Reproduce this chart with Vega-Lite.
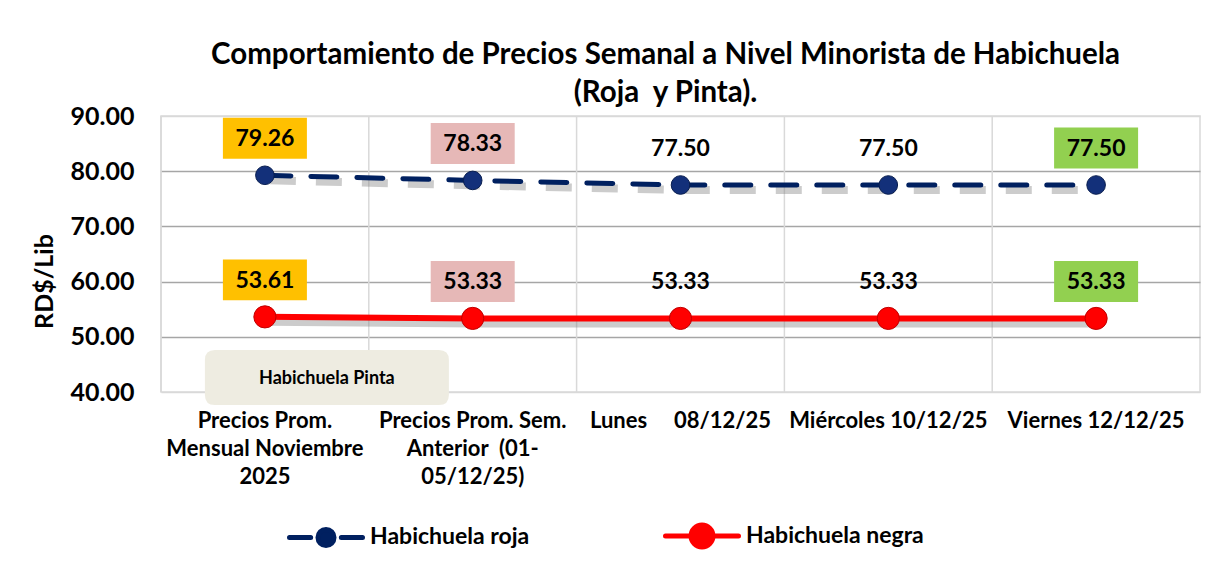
{
  "$schema": "https://vega.github.io/schema/vega-lite/v6.json",
  "width": 1039,
  "height": 276,
  "autosize": {"type": "none"},
  "padding": {"left": 161, "top": 116, "right": 19, "bottom": 170},
  "background": "white",
  "config": {"font": "Lato", "view": {"stroke": "#d9d9d9", "strokeWidth": 1.5}},
  "title": {
    "text": ["Comportamiento de Precios Semanal a Nivel Minorista de Habichuela", "(Roja\u00a0 y Pinta)."],
    "fontSize": 29.5, "fontWeight": "bold", "font": "Lato", "color": "#000000",
    "anchor": "middle", "frame": "group", "offset": -4, "lineHeight": 38, "dx": -15
  },
  "datasets": {
    "precios": [
      {"cat": "Precios Prom.|Mensual Noviembre|2025", "serie": "Habichuela roja", "value": 79.26},
      {"cat": "Precios Prom. Sem.|Anterior\u00a0 (01-|05/12/25)", "serie": "Habichuela roja", "value": 78.33},
      {"cat": "Lunes\u00a0\u00a0\u00a0\u00a0 08/12/25", "serie": "Habichuela roja", "value": 77.50},
      {"cat": "Miércoles 10/12/25", "serie": "Habichuela roja", "value": 77.50},
      {"cat": "Viernes 12/12/25", "serie": "Habichuela roja", "value": 77.50},
      {"cat": "Precios Prom.|Mensual Noviembre|2025", "serie": "Habichuela negra", "value": 53.61},
      {"cat": "Precios Prom. Sem.|Anterior\u00a0 (01-|05/12/25)", "serie": "Habichuela negra", "value": 53.33},
      {"cat": "Lunes\u00a0\u00a0\u00a0\u00a0 08/12/25", "serie": "Habichuela negra", "value": 53.33},
      {"cat": "Miércoles 10/12/25", "serie": "Habichuela negra", "value": 53.33},
      {"cat": "Viernes 12/12/25", "serie": "Habichuela negra", "value": 53.33}
    ],
    "nota": [
      {"cat": "Precios Prom.|Mensual Noviembre|2025", "nota": "Habichuela Pinta", "value": 42.63}
    ]
  },
  "data": {"name": "precios"},
  "encoding": {
    "x": {
      "field": "cat", "type": "nominal", "sort": null, "title": null,
      "scale": {"type": "band", "paddingInner": 0, "paddingOuter": 0},
      "axis": {
        "labelExpr": "split(datum.label, '|')",
        "labelAngle": 0, "labelFontSize": 22, "labelFontWeight": "bold", "labelColor": "#000000",
        "labelLineHeight": 28, "labelPadding": 18, "labelBaseline": "top", "labelLimit": 300,
        "ticks": false, "domain": false, "grid": false
      }
    }
  },
  "layer": [
    {
      "transform": [{"filter": "datum.serie == 'Habichuela roja'"}],
      "mark": {"type": "rule", "color": "#d9d9d9", "strokeWidth": 1.5},
      "encoding": {"x": {"field": "cat", "type": "nominal", "sort": null, "bandPosition": 0}}
    },
    {
      "transform": [{"filter": "datum.serie == 'Habichuela roja'"}],
      "mark": {"type": "line", "color": "#7f7f7f", "opacity": 0.4, "strokeWidth": 8, "strokeDash": [26, 20], "xOffset": 5, "yOffset": 5},
      "encoding": {
        "y": {
          "field": "value", "type": "quantitative",
          "scale": {"domain": [40, 90], "nice": false, "zero": false},
          "axis": {
            "values": [40, 50, 60, 70, 80, 90], "format": ".2f",
            "grid": true,
            "gridColor": {"condition": {"test": "datum.value == 40 || datum.value == 90", "value": "#d9d9d9"}, "value": "#a6a6a6"},
            "gridWidth": 1.5, "domain": false, "ticks": false,
            "labelFontSize": 25, "labelFontWeight": "bold", "labelColor": "#000000", "labelPadding": 27,
            "title": "RD$/Lib", "titleFontSize": 25, "titleFontWeight": "bold", "titleColor": "#000000",
            "titleAngle": -90, "titleAlign": "center", "titleBaseline": "middle", "titleX": -117, "titleY": 165
          }
        }
      }
    },
    {
      "transform": [{"filter": "datum.serie == 'Habichuela negra'"}],
      "mark": {"type": "line", "color": "#7f7f7f", "opacity": 0.4, "strokeWidth": 8, "xOffset": 3, "yOffset": 5},
      "encoding": {"y": {"field": "value", "type": "quantitative"}}
    },
    {
      "transform": [{"filter": "datum.serie == 'Habichuela roja'"}],
      "mark": {"type": "line", "strokeWidth": 5, "strokeDash": [26, 20], "strokeCap": "round"},
      "encoding": {
        "y": {"field": "value", "type": "quantitative"},
        "color": {
          "field": "serie", "type": "nominal",
          "scale": {"domain": ["Habichuela roja", "Habichuela negra"], "range": ["#002060", "#FF0000"]},
          "legend": {
            "orient": "none", "legendX": 126, "legendY": 381, "direction": "horizontal", "title": null,
            "padding": 0, "symbolSize": 5329, "labelFontSize": 23, "labelFontWeight": "bold", "labelColor": "#000000",
            "labelOffset": 5, "columnPadding": 125, "labelLimit": 400,
            "encode": {
              "symbols": {
                "update": {
                  "shape": {"signal": "datum.value == 'Habichuela roja' ? 'M-1,0H-0.42M0.42,0H1M-0.22,0A0.22,0.22 0 1,1 0.22,0A0.22,0.22 0 1,1 -0.22,0Z' : 'M-1,0H1M-0.3,0A0.3,0.3 0 1,1 0.3,0A0.3,0.3 0 1,1 -0.3,0Z'"},
                  "fill": {"scale": "color", "field": "value"},
                  "stroke": {"scale": "color", "field": "value"},
                  "strokeWidth": {"value": 5},
                  "strokeCap": {"value": "round"},
                  "strokeDash": {"value": []},
                  "opacity": {"value": 1}
                }
              }
            }
          }
        }
      }
    },
    {
      "transform": [{"filter": "datum.serie == 'Habichuela negra'"}],
      "mark": {"type": "line", "strokeWidth": 6},
      "encoding": {
        "y": {"field": "value", "type": "quantitative"},
        "color": {"field": "serie", "type": "nominal"}
      }
    },
    {
      "transform": [{"filter": "datum.serie == 'Habichuela roja'"}],
      "mark": {"type": "point", "filled": true, "size": 346, "fill": "#13307a", "stroke": "#0a1f50", "strokeWidth": 1, "opacity": 1},
      "encoding": {"y": {"field": "value", "type": "quantitative"}}
    },
    {
      "transform": [{"filter": "datum.serie == 'Habichuela negra'"}],
      "mark": {"type": "point", "filled": true, "size": 491, "fill": "#FF0000", "stroke": "#C00000", "strokeWidth": 1, "opacity": 1},
      "encoding": {"y": {"field": "value", "type": "quantitative"}}
    },
    {
      "transform": [{"filter": "indexof(datum.cat, 'Lunes') < 0 && indexof(datum.cat, 'Miércoles') < 0"}],
      "mark": {"type": "point", "shape": "M-1,-0.488H1V0.488H-1Z", "size": 7056, "filled": true, "strokeWidth": 0, "opacity": 1, "yOffset": -37},
      "encoding": {
        "y": {"field": "value", "type": "quantitative"},
        "fill": {
          "field": "cat", "type": "nominal", "legend": null,
          "scale": {
            "domain": ["Precios Prom.|Mensual Noviembre|2025", "Precios Prom. Sem.|Anterior\u00a0 (01-|05/12/25)", "Viernes 12/12/25"],
            "range": ["#FFC000", "#E6B8B7", "#92D050"]
          }
        }
      }
    },
    {
      "mark": {"type": "text", "fontSize": 23, "fontWeight": "bold", "color": "#000000", "baseline": "middle", "dy": -36},
      "encoding": {
        "y": {"field": "value", "type": "quantitative"},
        "text": {"field": "value", "type": "quantitative", "format": ".2f"}
      }
    },
    {
      "data": {"name": "nota"},
      "mark": {"type": "point", "shape": "M-0.918,-0.225H0.918Q1,-0.225 1,-0.143V0.143Q1,0.225 0.918,0.225H-0.918Q-1,0.225 -1,0.143V-0.143Q-1,-0.225 -0.918,-0.225Z", "size": 59536, "filled": true, "fill": "#EEECE1", "strokeWidth": 0, "opacity": 1, "xOffset": 62},
      "encoding": {"y": {"field": "value", "type": "quantitative"}}
    },
    {
      "data": {"name": "nota"},
      "mark": {"type": "text", "fontSize": 18, "fontWeight": "bold", "color": "#000000", "baseline": "middle", "xOffset": 62, "dy": 2},
      "encoding": {
        "y": {"field": "value", "type": "quantitative"},
        "text": {"field": "nota", "type": "nominal"}
      }
    }
  ]
}
